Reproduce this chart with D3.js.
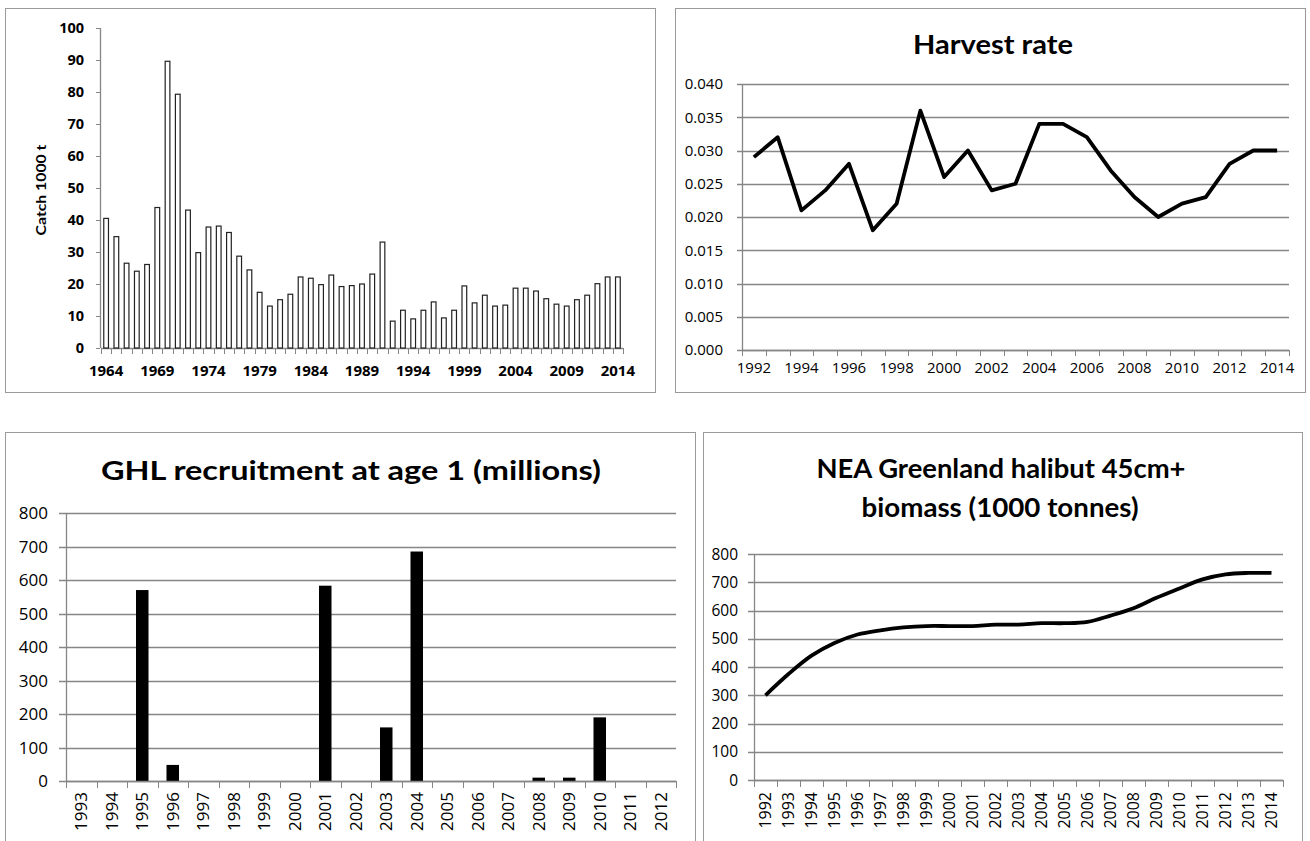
<!DOCTYPE html>
<html>
<head>
<meta charset="utf-8">
<script src="https://cdn.jsdelivr.net/npm/d3@7"></script>
<style>
  html, body { margin: 0; padding: 0; background: #fff; }
  svg { display: block; }
  text { font-family: "Open Sans", Lato, "Noto Sans", sans-serif; fill: #000; }
  text.ttl { font-family: Lato, "Open Sans", sans-serif; }
</style>
</head>
<body>
<script>
// ---- Catch (1000 t), 1964-2014 ----
const catchYears = [1964,1965,1966,1967,1968,1969,1970,1971,1972,1973,1974,1975,1976,1977,1978,1979,
  1980,1981,1982,1983,1984,1985,1986,1987,1988,1989,1990,1991,1992,1993,1994,1995,1996,1997,1998,1999,
  2000,2001,2002,2003,2004,2005,2006,2007,2008,2009,2010,2011,2012,2013,2014];
const catchValues = [40.5,34.8,26.5,24.0,26.1,43.9,89.6,79.3,43.1,29.8,37.8,38.1,36.1,28.7,24.4,17.4,
  13.1,15.1,16.8,22.2,21.8,19.8,22.8,19.2,19.5,20.0,23.1,33.1,8.4,11.8,9.1,11.8,14.4,9.4,11.8,19.4,
  14.1,16.5,13.1,13.4,18.7,18.7,17.8,15.4,13.7,13.1,15.1,16.5,20.1,22.2,22.2];
const catchTickYears = [1964,1969,1974,1979,1984,1989,1994,1999,2004,2009,2014];
const catchTicks = [0,10,20,30,40,50,60,70,80,90,100];

// ---- Harvest rate, 1992-2014 ----
const harvestYears = [1992,1993,1994,1995,1996,1997,1998,1999,2000,2001,2002,2003,2004,2005,2006,2007,
  2008,2009,2010,2011,2012,2013,2014];
const harvestValues = [0.029,0.032,0.021,0.024,0.028,0.018,0.022,0.036,0.026,0.030,0.024,0.025,0.034,
  0.034,0.032,0.027,0.023,0.020,0.022,0.023,0.028,0.030,0.030];
const harvestTickYears = [1992,1994,1996,1998,2000,2002,2004,2006,2008,2010,2012,2014];
const harvestTicks = [0,0.005,0.010,0.015,0.020,0.025,0.030,0.035,0.040];

// ---- Recruitment at age 1 (millions), 1993-2012 ----
const recruitYears = [1993,1994,1995,1996,1997,1998,1999,2000,2001,2002,2003,2004,2005,2006,2007,2008,
  2009,2010,2011,2012];
const recruitValues = [0,0,570,48,0,0,0,0,583,0,160,685,0,0,0,10,10,190,0,0];
const recruitTicks = [0,100,200,300,400,500,600,700,800];

// ---- 45cm+ biomass (1000 tonnes), 1992-2014 ----
const biomassYears = [1992,1993,1994,1995,1996,1997,1998,1999,2000,2001,2002,2003,2004,2005,2006,2007,
  2008,2009,2010,2011,2012,2013,2014];
const biomassValues = [300,375,440,485,515,530,540,545,545,545,550,550,555,555,560,582,608,645,678,
  710,728,733,733];
const biomassTicks = [0,100,200,300,400,500,600,700,800];

const AXIS = "#868686";
const FRAME = "#9a9a9a";

const svg = d3.select("body").append("svg")
  .attr("width", 1310).attr("height", 841);
svg.append("rect").attr("width", 1310).attr("height", 841).attr("fill", "#fff");

function frame(x, y, w, h) {
  svg.append("rect").attr("x", x + 0.5).attr("y", y + 0.5)
    .attr("width", w).attr("height", h)
    .attr("fill", "#fff").attr("stroke", FRAME).attr("stroke-width", 1);
}

// vertical axis line + outward ticks + labels, optional horizontal gridlines
function yAxis(g, y, ticks, x0, x1, opts) {
  const { fmt, size, weight, grid, tick, pad } = opts;
  if (grid) {
    g.selectAll(null).data(ticks).join("line")
      .attr("x1", x0 - tick).attr("x2", x1)
      .attr("y1", d => Math.round(y(d)) + 0.5).attr("y2", d => Math.round(y(d)) + 0.5)
      .attr("stroke", AXIS).attr("stroke-width", 1.3);
  } else {
    g.selectAll(null).data(ticks).join("line")
      .attr("x1", x0 - tick).attr("x2", x0)
      .attr("y1", d => Math.round(y(d)) + 0.5).attr("y2", d => Math.round(y(d)) + 0.5)
      .attr("stroke", AXIS).attr("stroke-width", 1);
  }
  g.append("line").attr("x1", x0 + 0.5).attr("x2", x0 + 0.5)
    .attr("y1", y.range()[1]).attr("y2", y.range()[0])
    .attr("stroke", AXIS).attr("stroke-width", 1.3);
  g.selectAll(null).data(ticks).join("text")
    .attr("x", x0 - tick - pad).attr("y", d => y(d))
    .attr("dy", "0.36em").attr("text-anchor", "end")
    .attr("font-size", size).attr("font-weight", weight)
    .text(fmt);
}

// horizontal category axis with ticks at band boundaries
function xAxisLine(g, xb, yPos, tickLen) {
  const [r0, r1] = xb.range();
  g.append("line").attr("x1", r0).attr("x2", r1)
    .attr("y1", yPos + 0.5).attr("y2", yPos + 0.5)
    .attr("stroke", AXIS).attr("stroke-width", 1.3);
  const bounds = xb.domain().map(d => xb(d)).concat([r1]);
  g.selectAll(null).data(bounds).join("line")
    .attr("x1", d => Math.round(d) + 0.5).attr("x2", d => Math.round(d) + 0.5)
    .attr("y1", yPos).attr("y2", yPos + tickLen)
    .attr("stroke", AXIS).attr("stroke-width", 1);
}

function title(text, cx, baseline, size, width) {
  svg.append("text").attr("class", "ttl").attr("x", cx).attr("y", baseline)
    .attr("text-anchor", "middle").attr("font-size", size).attr("font-weight", 700)
    .attr("textLength", width).attr("lengthAdjust", "spacingAndGlyphs")
    .text(text);
}

// ================= Panel 1: catch bars =================
(function () {
  frame(5, 8, 650, 384);
  const g = svg.append("g");
  const xb = d3.scaleBand().domain(catchYears).range([101, 623]);
  const y = d3.scaleLinear().domain([0, 100]).range([348, 28]);
  const bw = xb.bandwidth();

  yAxis(g, y, catchTicks, 100, 623, { fmt: d => d, size: 14.5, weight: 700, grid: false, tick: 4, pad: 12 });
  xAxisLine(g, xb, 348, 6);

  g.selectAll(null).data(catchYears).join("rect")
    .attr("x", d => xb(d) + bw * 0.27)
    .attr("width", bw * 0.46)
    .attr("y", (d, i) => y(catchValues[i]))
    .attr("height", (d, i) => y(0) - y(catchValues[i]))
    .attr("fill", "#fff").attr("stroke", "#222").attr("stroke-width", 1.2);

  g.selectAll(null).data(catchTickYears).join("text")
    .attr("x", d => xb(d) + bw / 2).attr("y", 376)
    .attr("text-anchor", "middle").attr("font-size", 15).attr("font-weight", 700)
    .text(d => d);

  g.append("text").attr("class", "ttl")
    .attr("transform", "translate(46,190) rotate(-90)")
    .attr("text-anchor", "middle").attr("font-size", 14).attr("font-weight", 700)
    .attr("textLength", 91).attr("lengthAdjust", "spacingAndGlyphs")
    .text("Catch 1000 t");
})();

// ================= Panel 2: harvest rate line =================
(function () {
  frame(675, 8, 630, 384);
  title("Harvest rate", 993, 54, 26, 160);
  const g = svg.append("g");
  const xb = d3.scaleBand().domain(harvestYears).range([742, 1289]);
  const y = d3.scaleLinear().domain([0, 0.04]).range([350, 84]);
  const bw = xb.bandwidth();

  yAxis(g, y, harvestTicks, 742, 1289, { fmt: d3.format(".3f"), size: 15, weight: 400, grid: true, tick: 5, pad: 14 });
  xAxisLine(g, xb, Math.round(y(0)), 6);

  g.selectAll(null).data(harvestTickYears).join("text")
    .attr("x", d => xb(d) + bw / 2).attr("y", 373)
    .attr("text-anchor", "middle").attr("font-size", 15)
    .text(d => d);

  const line = d3.line()
    .x((d, i) => xb(harvestYears[i]) + bw / 2)
    .y(d => y(d));
  g.append("path").datum(harvestValues).attr("d", line)
    .attr("fill", "none").attr("stroke", "#000").attr("stroke-width", 3.8)
    .attr("stroke-linejoin", "round").attr("stroke-linecap", "butt");
})();

// ================= Panel 3: recruitment bars =================
(function () {
  frame(5, 432, 690, 420);
  title("GHL recruitment at age 1 (millions)", 351, 480, 27, 500);
  const g = svg.append("g");
  const xb = d3.scaleBand().domain(recruitYears).range([66, 676]);
  const y = d3.scaleLinear().domain([0, 800]).range([781, 513]);
  const bw = xb.bandwidth();

  yAxis(g, y, recruitTicks, 66, 676, { fmt: d => d, size: 17, weight: 400, grid: true, tick: 7, pad: 11 });

  g.selectAll(null).data(recruitYears).join("rect")
    .attr("x", d => xb(d) + bw * 0.295)
    .attr("width", bw * 0.41)
    .attr("y", (d, i) => y(recruitValues[i]))
    .attr("height", (d, i) => y(0) - y(recruitValues[i]))
    .attr("fill", "#000");

  xAxisLine(g, xb, Math.round(y(0)), 7);

  g.selectAll(null).data(recruitYears).join("text")
    .attr("transform", d => `translate(${xb(d) + bw / 2},792) rotate(-90)`)
    .attr("dy", "0.36em").attr("text-anchor", "end").attr("font-size", 17)
    .text(d => d);
})();

// ================= Panel 4: biomass line =================
(function () {
  frame(703, 432, 599, 420);
  title("NEA Greenland halibut 45cm+", 1001, 478, 26, 369);
  title("biomass (1000 tonnes)", 1000, 517, 26, 277);
  const g = svg.append("g");
  const xb = d3.scaleBand().domain(biomassYears).range([754, 1283]);
  const y = d3.scaleLinear().domain([0, 800]).range([780, 554]);
  const bw = xb.bandwidth();

  yAxis(g, y, biomassTicks, 754, 1283, { fmt: d => d, size: 15.5, weight: 400, grid: true, tick: 6, pad: 10 });
  xAxisLine(g, xb, Math.round(y(0)), 7);

  g.selectAll(null).data(biomassYears).join("text")
    .attr("transform", d => `translate(${xb(d) + bw / 2},792) rotate(-90)`)
    .attr("dy", "0.36em").attr("text-anchor", "end").attr("font-size", 16)
    .text(d => d);

  const line = d3.line()
    .x((d, i) => xb(biomassYears[i]) + bw / 2)
    .y(d => y(d))
    .curve(d3.curveCatmullRom.alpha(0.5));
  g.append("path").datum(biomassValues).attr("d", line)
    .attr("fill", "none").attr("stroke", "#000").attr("stroke-width", 3.8)
    .attr("stroke-linejoin", "round");
})();
</script>
</body>
</html>
